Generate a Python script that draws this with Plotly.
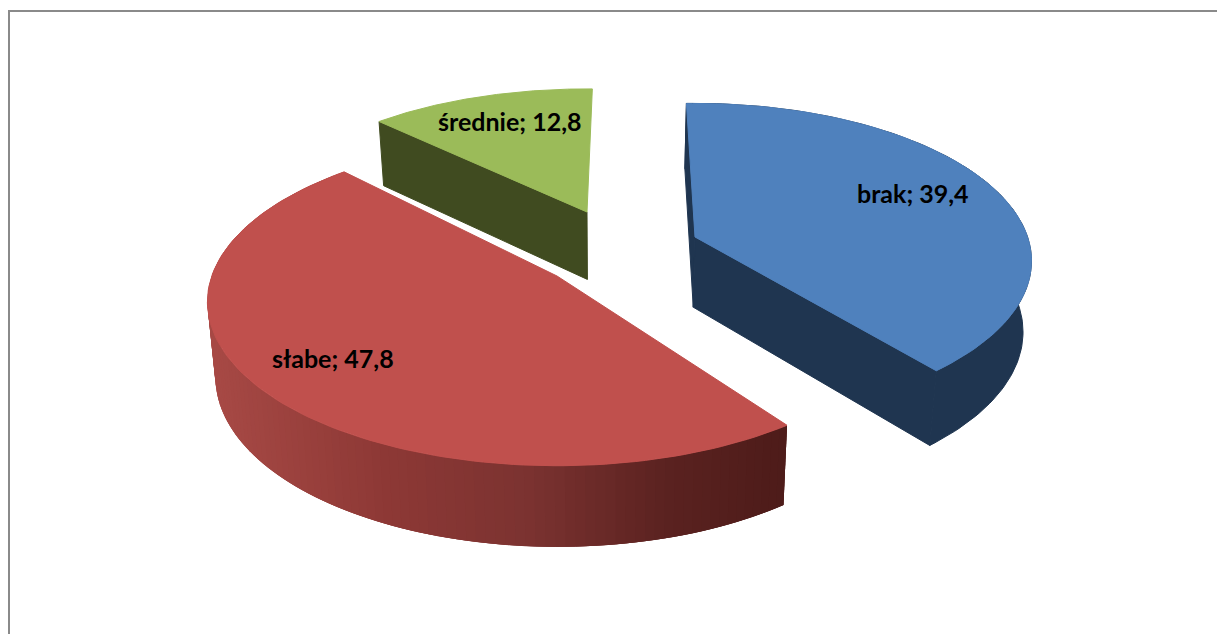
import numpy as np
import plotly.graph_objects as go

# data
categories = ["brak", "słabe", "średnie"]
values = [39.4, 47.8, 12.8]

# styling / projection parameters
top_colors = ["#4F81BD", "#C0504D", "#9BBB59"]
apex_px = [(695, 237), (557, 276), (587, 212)]
start_deg = [-1.7, 144.5, 315.0]
depth_scale = [1.0, 1.0, 0.94]
wall_h = [72.0, 75.0, 70.0]
label_xy = [(913, 193), (333, 358), (509, 121)]
A, B, K, CY, VX, M = 350.0, 162.0, 0.16, 290.0, 608.0, 0.98
W, HT = 1217, 634
red_stops = [(0.0, "#A84A46"), (0.3, "#8E3936"), (0.55, "#7C3331"), (0.8, "#5A2220"), (1.0, "#4E1C1A")]
wall_flat = ["#1F3550", None, "#404B20"]
visible_faces = [(0, -1), (), (0,)]


def project(apex, theta, dscale):
    px, py = apex
    v0 = (CY - py) / B
    u, v = np.sin(theta), np.cos(theta)
    s = 1 / (1 + K * (v0 + v))
    return px + A * u * s, py - B * dscale * v * s, s


def bottom(x, y, s, h):
    return VX + (x - VX) * M, y + h * np.sqrt(s)


def apex_bottom(apex, h):
    v0 = (CY - apex[1]) / B
    return bottom(apex[0], apex[1], 1 / (1 + K * v0), h)


def hex2rgb(h):
    return np.array([int(h[i:i + 2], 16) for i in (1, 3, 5)], dtype=float)


def lerp_color(stops, t):
    for (t0, c0), (t1, c1) in zip(stops, stops[1:]):
        if t <= t1:
            f = (t - t0) / (t1 - t0)
            c = hex2rgb(c0) * (1 - f) + hex2rgb(c1) * f
            return "rgb(%d,%d,%d)" % tuple(c)
    return stops[-1][1]


fig = go.Figure()


def poly(xs, ys, color, lw=0.6):
    fig.add_trace(go.Scatter(
        x=list(xs) + [xs[0]], y=list(ys) + [ys[0]], mode="lines", fill="toself",
        fillcolor=color, line=dict(color=color, width=lw),
        hoverinfo="skip", showlegend=False))


total = sum(values)
for i in [2, 1, 0]:
    span = values[i] / total * 2 * np.pi
    th0 = np.radians(start_deg[i])
    th = np.linspace(th0, th0 + span, 121)
    apex = apex_px[i]
    x, y, s = project(apex, th, depth_scale[i])
    xb, yb = bottom(x, y, s, wall_h[i])
    ax, ay = apex
    bx, by = apex_bottom(apex, wall_h[i])
    # outer wall, in overlapping strips so it can shade without seams
    if wall_flat[i] and i == 0:
        poly(list(x) + list(xb[::-1]), list(y) + list(yb[::-1]), wall_flat[i], 1.0)
    elif not wall_flat[i]:
        n = len(th)
        for j in range(n - 1, 0, -1):   # th rises from the right end to the left end
            k0, k1 = j, max(j - 3, 0)
            xm = (x[j] + x[j - 1]) / 2
            t = np.clip((xm - x.min()) / (x.max() - x.min()), 0, 1)
            poly([x[k0], x[k1], xb[k1], xb[k0]], [y[k0], y[k1], yb[k1], yb[k0]],
                 lerp_color(red_stops, t), 0)
    # radial faces
    for j in visible_faces[i]:
        poly([ax, x[j], xb[j], bx], [ay, y[j], yb[j], by], wall_flat[i], 1.0)
    poly([ax] + list(x), [ay] + list(y), top_colors[i], 1.0)

annotations = [
    dict(x=lx, y=ly, text=f"<b>{c}; {str(v).replace('.', ',')}</b>", showarrow=False,
         font=dict(family="Lato, Carlito, sans-serif", size=25, color="#000000"),
         xanchor="center", yanchor="middle")
    for c, v, (lx, ly) in zip(categories, values, label_xy)
]

fig.update_layout(
    width=W, height=HT, margin=dict(l=0, r=0, t=0, b=0), autosize=False,
    paper_bgcolor="white", plot_bgcolor="white", showlegend=False,
    xaxis=dict(range=[0, W], visible=False, fixedrange=True),
    yaxis=dict(range=[HT, 0], visible=False, fixedrange=True),
    annotations=annotations,
    shapes=[
        dict(type="line", x0=9, x1=W, y0=11, y1=11, line=dict(color="#8A8A8A", width=2)),
        dict(type="line", x0=9, x1=9, y0=10, y1=HT, line=dict(color="#8A8A8A", width=2)),
    ],
)

fig.write_html("out.html", config={"displayModeBar": False},
               post_script="document.body.style.margin='0';document.body.style.overflow='hidden';")
